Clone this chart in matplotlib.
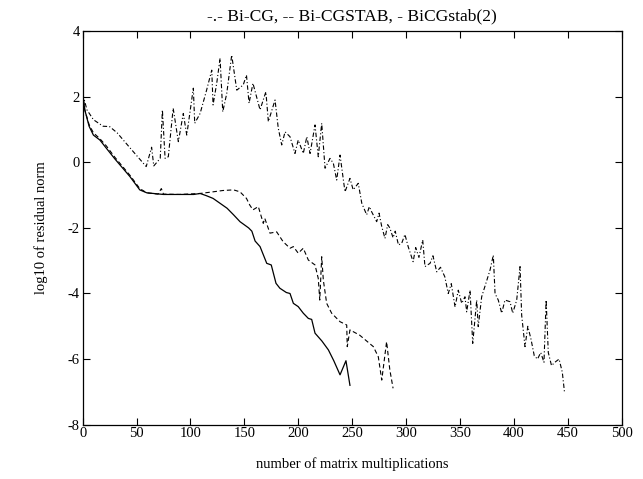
import matplotlib.pyplot as plt

# Bi-CG (dash-dot)
bicg_x = [0, 4, 10, 19, 25, 32, 45, 59, 64, 66, 72, 74, 76.5, 79.5, 84, 88.8, 93.4, 96.6,
          102.7, 104, 109, 115, 119.8, 121, 124.4, 127.5, 130, 133.7, 138.3, 143, 149, 152,
          154.4, 158, 164.6, 170, 172.3, 178.5, 181.5, 184.7, 187.8, 192.4, 197, 200, 204.7,
          208, 211, 215.6, 218.6, 221.8, 224.9, 229.5, 232.6, 235.7, 238.8, 243.4, 248, 251,
          255.7, 259, 263.5, 266, 268, 272.8, 275, 277.5, 280.5, 283, 285, 288, 290, 293, 296,
          299, 302, 306.6, 309, 312, 315.5, 317.6, 322.3, 325, 328.5, 332, 336, 339.2, 342,
          345.5, 348.5, 351.7, 354.7, 356.3, 359.4, 361.9, 365.6, 367, 370.2, 378, 381, 382.6,
          385.6, 388.8, 391.8, 396.5, 399, 402.7, 405.8, 407.3, 410.4, 413, 416, 419, 422,
          425, 428, 430, 432, 435, 438, 442, 445, 447]
bicg_y = [2.1, 1.6, 1.3, 1.1, 1.09, 0.9, 0.4, -0.13, 0.46, -0.11, 0.12, 1.6, 0.12, 0.17, 1.65,
          0.63, 1.49, 0.83, 2.26, 1.19, 1.49, 2.2, 2.81, 1.75, 2.41, 3.17, 1.54, 2.1, 3.27, 2.2,
          2.36, 2.66, 1.8, 2.41, 1.6, 2.15, 1.24, 1.9, 1.04, 0.53, 0.93, 0.78, 0.27, 0.68, 0.27,
          0.78, 0.27, 1.14, 0.17, 1.19, -0.18, 0.12, -0.03, -0.54, 0.22, -0.9, -0.49, -0.84,
          -0.64, -1.25, -1.6, -1.35, -1.5, -1.81, -1.55, -1.96, -2.32, -1.9, -2.0, -2.3, -2.1,
          -2.52, -2.47, -2.2, -2.57, -3.03, -2.6, -2.9, -2.37, -3.18, -3.08, -2.85, -3.34,
          -3.2, -3.49, -4.0, -3.7, -4.41, -3.9, -4.3, -4.1, -4.56, -3.9, -5.52, -4.2, -5.01,
          -4.1, -3.28, -2.83, -4.0, -4.2, -4.6, -4.2, -4.25, -4.6, -4.2, -3.18, -4.66, -5.62,
          -5.0, -5.4, -5.9, -6.0, -5.8, -6.1, -4.2, -5.8, -6.2, -6.1, -6.0, -6.4, -7.0]

# Bi-CGSTAB (dashed)
cgstab_x = [0, 2, 6, 10, 16, 22, 30, 44, 53, 59.5, 70, 73, 75, 90, 109, 121, 130, 140, 146,
            152, 155, 158, 163, 167.6, 169, 173.8, 180, 186, 192.4, 195.5, 200, 204.7, 209.4,
            215.6, 218.6, 220, 221.8, 223.3, 226.4, 231, 238.8, 245, 245.5, 248, 257, 269.7,
            274.3, 277.5, 282, 285, 288]
cgstab_y = [2.1, 1.6, 1.15, 0.9, 0.72, 0.5, 0.15, -0.4, -0.8, -0.93, -0.97, -0.8, -0.97,
            -0.98, -0.95, -0.9, -0.86, -0.84, -0.9, -1.1, -1.3, -1.45, -1.35, -1.86, -1.71,
            -2.16, -2.12, -2.42, -2.62, -2.57, -2.77, -2.62, -2.98, -3.13, -3.54, -4.2, -2.88,
            -3.59, -4.3, -4.6, -4.86, -4.96, -5.62, -5.11, -5.27, -5.62, -5.93, -6.64, -5.47,
            -6.33, -6.89]

# BiCGstab(2) (solid)
stab2_x = [0, 2, 6, 10, 16, 22, 30, 44, 53, 59.5, 75, 90, 103, 109, 115, 121, 127.5, 134,
           140, 146, 154, 157, 160, 164.6, 170.8, 175, 179.4, 183, 189, 192.4, 195.5, 200,
           204.7, 209.4, 212.5, 215.6, 222, 228, 233, 238.8, 244.3, 248]
stab2_y = [2.1, 1.6, 1.1, 0.83, 0.68, 0.43, 0.1, -0.44, -0.84, -0.93, -0.98, -0.98, -0.98,
           -0.95, -1.02, -1.1, -1.25, -1.4, -1.6, -1.81, -2.0, -2.1, -2.4, -2.57, -3.08, -3.13,
           -3.69, -3.84, -3.97, -4.0, -4.3, -4.4, -4.6, -4.76, -4.79, -5.21, -5.45, -5.72,
           -6.05, -6.48, -6.05, -6.8]

xticks = list(range(0, 501, 50))
yticks = list(range(-8, 5, 2))

plt.rcParams['font.family'] = ['Liberation Serif', 'DejaVu Serif']
plt.rcParams['font.size'] = 10.5
plt.rcParams['axes.unicode_minus'] = False

fig = plt.figure(figsize=(6.43, 4.79), dpi=100)
ax = fig.add_axes([0.1285, 0.1134, 0.8382, 0.8216])

ax.plot(bicg_x, bicg_y, color='black', linestyle='-.', linewidth=0.8, dashes=(4, 2, 1, 2))
ax.plot(cgstab_x, cgstab_y, color='black', linestyle='--', linewidth=0.8, dashes=(4, 2.5))
ax.plot(stab2_x, stab2_y, color='black', linestyle='-', linewidth=0.9)

ax.set_xlim(0, 500)
ax.set_ylim(-8, 4)
ax.set_xticks(xticks)
ax.set_yticks(yticks)
ax.tick_params(direction='in', top=True, right=True, length=5, width=0.8, pad=2)
for s in ax.spines.values():
    s.set_linewidth(0.9)

ax.set_title('-.- Bi-CG, -- Bi-CGSTAB, - BiCGstab(2)', pad=8)
ax.set_xlabel('number of matrix multiplications', labelpad=12)
ax.set_ylabel('log10 of residual norm', labelpad=14)

fig.savefig('out.png', dpi=100)
